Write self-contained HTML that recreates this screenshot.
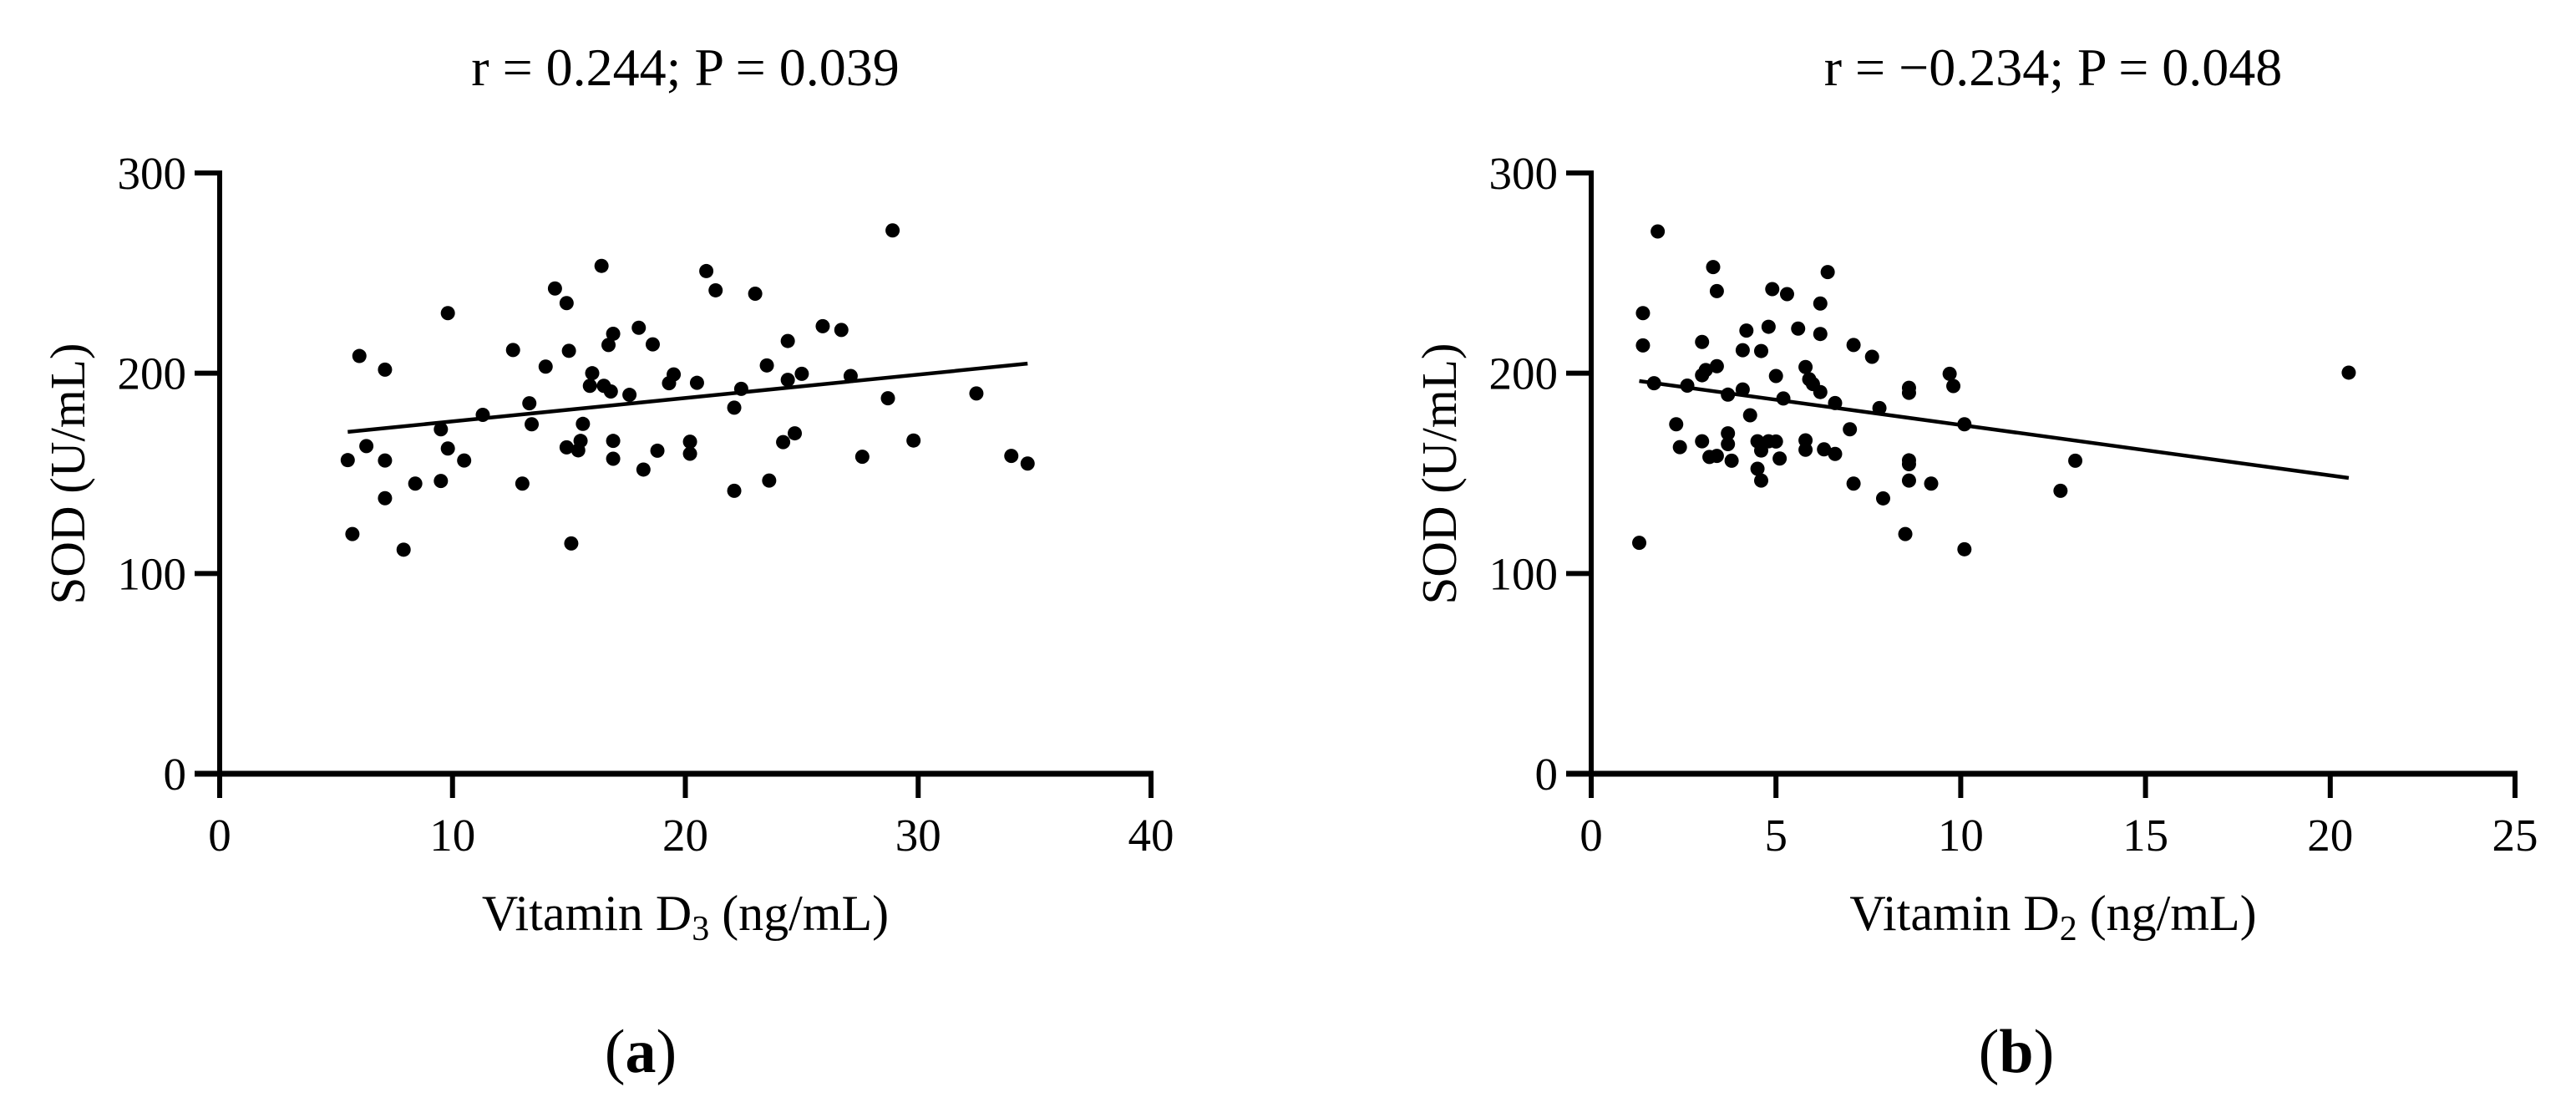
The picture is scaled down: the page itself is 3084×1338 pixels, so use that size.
<!DOCTYPE html>
<html><head><meta charset="utf-8"><style>
html,body{margin:0;padding:0;background:#fff;}
svg{display:block;font-family:"Liberation Serif",serif;}
</style></head><body>
<svg id="fig" width="3084" height="1338" viewBox="0 0 3084 1338"></svg>
<script>
const aX=[5.5,5.7,6.0,6.3,7.1,7.1,7.1,7.9,8.4,9.5,9.5,9.8,9.8,10.5,11.3,12.6,13.0,13.3,13.4,14.0,14.4,14.9,15.0,14.9,15.1,15.4,15.5,15.6,15.9,16.0,16.4,16.5,16.7,16.8,16.9,16.9,16.9,17.6,18.0,18.2,18.6,18.8,19.3,19.5,20.2,20.2,20.5,20.9,21.3,22.1,22.1,22.4,23.0,23.5,23.6,24.2,24.4,24.4,24.7,25.0,25.9,26.7,27.1,27.6,28.7,28.9,29.8,32.5,34.0,34.7];
const aY=[156.6,119.7,208.6,163.6,201.8,156.4,137.6,111.9,144.9,146.2,172,230,162.4,156.4,179.2,211.6,144.9,185,174.5,203.3,242.3,235,211.2,163,115,161.5,166.2,174.7,193.7,200,253.6,193.7,214.1,190.9,219.7,166.2,157.3,189.2,222.7,151.9,214.4,161.3,195,199.4,165.8,159.8,195.2,251,241.4,182.8,141.3,192.2,239.7,203.9,146.4,165.6,216.1,196.7,170,199.7,223.5,221.6,198.6,158.3,187.5,271.3,166.4,189.9,158.7,154.9];
const aFitX=[5.5,34.7];
const aFitY=[170.7,204.8];
const bX=[1.3,1.4,1.4,1.7,1.8,2.3,2.4,2.6,3.0,3.0,3.0,3.1,3.2,3.3,3.4,3.4,3.4,3.7,3.7,3.7,3.8,4.1,4.1,4.2,4.3,4.5,4.5,4.6,4.6,4.6,4.8,4.8,4.9,5.0,5.0,5.1,5.2,5.3,5.6,5.8,5.8,5.8,5.9,6.0,6.2,6.2,6.2,6.3,6.4,6.6,6.6,7.0,7.1,7.1,7.6,7.8,7.9,8.5,8.6,8.6,8.6,8.6,8.6,9.2,9.7,9.8,10.1,10.1,12.7,13.1,20.5];
const bY=[115.3,230,213.9,195,270.8,174.5,163.1,193.8,199,166,215.6,201.6,158.2,253,241,158.7,203.5,170,164.6,189.3,156.3,191.9,211.5,221.3,179,166,152.3,146.4,161.4,211.1,223.2,166,242,198.6,165.9,157.4,187.4,239.5,222.3,166.5,203.1,161.8,197,194.6,234.8,219.6,190.6,162,250.5,159.7,185.1,172,214.1,144.9,208.2,182.6,137.5,119.7,192.7,190.2,156.5,154.6,146.4,144.9,199.7,193.6,174.5,112.1,141.3,156.3,200.3];
const bFitX=[1.3,20.5];
const bFitY=[196.1,147.7];
const aXTicks=[0,10,20,30,40];
const bXTicks=[0,5,10,15,20,25];
const yTicks=[0,100,200,300];

const svg=document.getElementById('fig');
const NS='http://www.w3.org/2000/svg';
function mk(tag,attrs,parent){const e=document.createElementNS(NS,tag);for(const k in attrs)e.setAttribute(k,attrs[k]);(parent||svg).appendChild(e);return e;}

function panel(id,x0,x1,xmax,xt,xs,ys,fx,fy,title,xlabSub,letter,labelX){
  const y0=926,y1=207;
  const sx=v=>x0+(x1-x0)*v/xmax;
  const sy=v=>y0-(y0-y1)*v/300;
  const g=mk('g',{});
  
  
  const cx=(x0+x1)/2;
  const t=mk('text',{x:cx,y:102,'font-size':64,'text-anchor':'middle'},g);
  t.textContent=title;
  
  
  const ya=mk('line',{x1:x0,y1:y1-3,x2:x0,y2:y0+3,stroke:'#000','stroke-width':6},g);
  
  
  const xa=mk('line',{x1:x0-30,y1:y0,x2:x1+3,y2:y0,stroke:'#000','stroke-width':7},g);
  
  
  yTicks.forEach(v=>{
    const tk=mk('line',{x1:x0-30,y1:sy(v),x2:x0,y2:sy(v),stroke:'#000','stroke-width':6},g);
    
    
    const l=mk('text',{x:x0-40,y:sy(v)+19,'font-size':55,'text-anchor':'end'},g);
    l.textContent=v;
    
    
  });
  xt.forEach(v=>{
    const tk=mk('line',{x1:sx(v),y1:y0,x2:sx(v),y2:y0+29,stroke:'#000','stroke-width':6},g);
    
    
    const l=mk('text',{x:sx(v),y:y0+92,'font-size':55,'text-anchor':'middle'},g);
    l.textContent=v;
    
    
  });
  const yl=mk('text',{x:0,y:0,'font-size':59,'text-anchor':'middle',transform:'translate('+(x0-162)+',567) rotate(-90)'},g);
  yl.textContent='SOD (U/mL)';
  
  
  const xl=mk('text',{x:cx,y:1113,'font-size':60,'text-anchor':'middle'},g);
  
  
  xl.innerHTML='Vitamin D<tspan font-size="42" dy="12">'+xlabSub+'</tspan><tspan dy="-12"> (ng/mL)</tspan>';
  const fit=mk('line',{x1:sx(fx[0]),y1:sy(fy[0]),x2:sx(fx[1]),y2:sy(fy[1]),stroke:'#000','stroke-width':4.5},g);
  
  
  xs.forEach((v,i)=>{
    const c=mk('ellipse',{cx:sx(v),cy:sy(ys[i]),rx:8.5,ry:8.5,fill:'#000'},g);
    
    
  });
  const lt=mk('text',{x:labelX,y:1283,'font-size':74,'text-anchor':'middle'},g);
  
  
  lt.innerHTML='(<tspan font-weight="bold">'+letter+'</tspan>)';
}
panel('a',263,1378,40,aXTicks,aX,aY,aFitX,aFitY,'r = 0.244; P = 0.039','3','a',767);
panel('b',1905,3011,25,bXTicks,bX,bY,bFitX,bFitY,'r = \u22120.234; P = 0.048','2','b',2414);
</script>
</body></html>
